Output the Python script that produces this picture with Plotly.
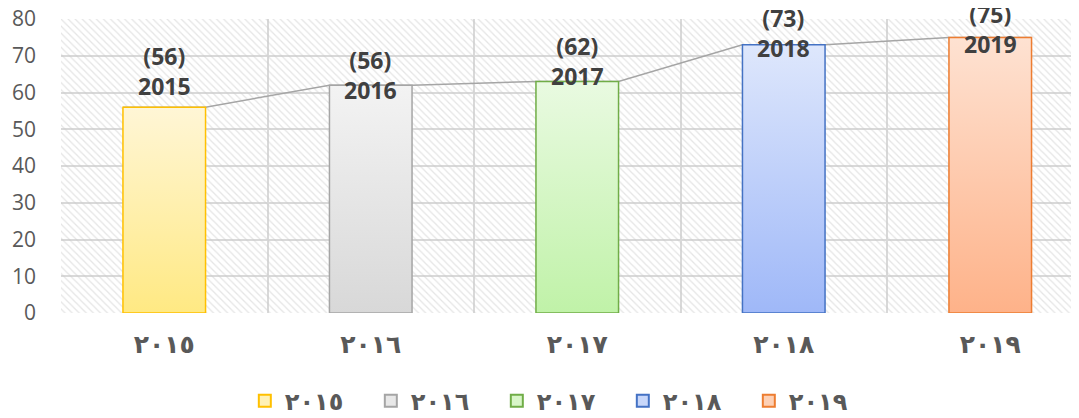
import plotly.graph_objects as go

# ---- data ----
YEARS = ["2015", "2016", "2017", "2018", "2019"]
YEARS_AR = ["٢٠١٥", "٢٠١٦", "٢٠١٧", "٢٠١٨", "٢٠١٩"]
VALUES = [56, 62, 63, 73, 75]
LABEL_VALUES = [56, 56, 62, 73, 75]
Y_TICKS = [0, 10, 20, 30, 40, 50, 60, 70, 80]

# ---- styles ----
EDGE = ["#FFC000", "#A5A5A5", "#70AD47", "#4472C4", "#ED7D31"]
TOP = ["#FFF6D6", "#F3F3F3", "#E9FAE1", "#DEE7FC", "#FEE2D2"]
BOTTOM = ["#FFE983", "#D8D8D8", "#C0F2A8", "#9FB8F8", "#FEB289"]
LEG_FILL = ["#FFF1B5", "#E8E8E8", "#D8F6C8", "#C8D7FA", "#FDD0B5"]
LABEL_SHIFT = [36, 10, 20, 12, 8]
HALF_W = 0.2
Y_MAX = Y_TICKS[-1]
n = len(YEARS)
xs = list(range(n))

fig = go.Figure()

# hatched plot background
fig.add_trace(go.Bar(
    x=xs, y=[Y_MAX] * n, width=1, hoverinfo="skip", showlegend=False,
    marker=dict(color="rgba(0,0,0,0)", line=dict(width=0),
                pattern=dict(shape="\\", size=5, solidity=0.25,
                             fgcolor="#CBCBCB", bgcolor="rgba(0,0,0,0)")),
))

# series line joining bar tops
lx, ly = [], []
for i in range(n):
    lx += [xs[i] - HALF_W, xs[i] + HALF_W]
    ly += [VALUES[i], VALUES[i]]
fig.add_trace(go.Scatter(x=lx, y=ly, mode="lines", showlegend=False,
                         line=dict(color="#A5A5A5", width=1.5), hoverinfo="skip"))

# gradient bars
for i in range(n):
    x0, x1 = xs[i] - HALF_W, xs[i] + HALF_W
    fig.add_trace(go.Scatter(
        x=[x0, x0, x1, x1, x0], y=[0, VALUES[i], VALUES[i], 0, 0],
        mode="lines", fill="toself", showlegend=False,
        line=dict(color=EDGE[i], width=1.5),
        fillgradient=dict(type="vertical",
                          colorscale=[[0, BOTTOM[i]], [1, TOP[i]]]),
        name=YEARS[i], legendgroup=YEARS[i],
    ))

# legend entries
for i in range(n):
    fig.add_trace(go.Scatter(
        x=[None], y=[None], mode="markers", name=YEARS_AR[i], legendgroup=YEARS[i],
        marker=dict(symbol="square", size=17, color=LEG_FILL[i],
                    line=dict(color=EDGE[i], width=1.8)),
    ))

# data labels
for i in range(n):
    fig.add_annotation(
        x=xs[i], y=VALUES[i], text=f"({LABEL_VALUES[i]})<br>{YEARS[i]}",
        showarrow=False, yanchor="middle", yshift=LABEL_SHIFT[i],
        font=dict(family="Open Sans", size=23, color="#404040", weight="bold"),
    )

fig.update_layout(
    width=1071, height=410,
    margin=dict(l=53, r=0, t=11, b=105, autoexpand=False),
    paper_bgcolor="white", plot_bgcolor="white",
    barmode="overlay",
    showlegend=True,
    legend=dict(orientation="h", x=0.49, xanchor="center", y=-0.30, yanchor="middle",
                font=dict(family="DejaVu Sans", size=24, color="#595959", weight="bold"),
                itemsizing="constant", entrywidth=81, traceorder="normal"),
    xaxis=dict(
        range=[-0.5, -0.5 + 1018 / 206.5],
        tickmode="array", tickvals=xs, ticktext=YEARS_AR,
        showgrid=False, zeroline=False, showline=False,
        ticklabelstandoff=14,
        tickfont=dict(family="DejaVu Sans", size=25, color="#595959", weight="bold"),
        minor=dict(tickmode="array", tickvals=[i - 0.5 for i in range(n + 1)],
                   showgrid=True, gridcolor="#D9D9D9", gridwidth=1.5, ticks=""),
    ),
    yaxis=dict(
        range=[0, Y_MAX], tickmode="array", tickvals=Y_TICKS,
        showgrid=True, gridcolor="#D9D9D9", gridwidth=1.5,
        zeroline=False, showline=False, ticklabelstandoff=24,
        ticklabeloverflow="allow",
        tickfont=dict(family="Open Sans", size=21, color="#595959"),
    ),
)

fig.write_html("out.html")
